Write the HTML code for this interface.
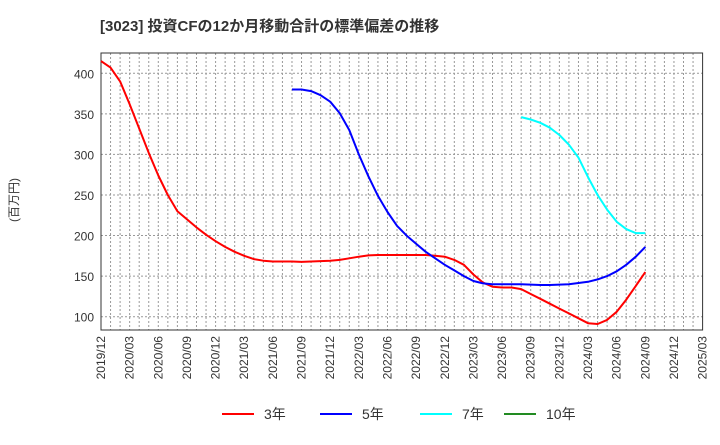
<!DOCTYPE html>
<html><head><meta charset="utf-8"><style>
body{margin:0;background:#fff;font-family:"Liberation Sans","Noto Sans CJK JP",sans-serif}
</style></head><body>
<svg width="720" height="440" font-family="Liberation Sans, Noto Sans CJK JP, sans-serif">
<text x="100" y="31" font-size="15" font-weight="bold" fill="#333">[3023]  投資CFの12か月移動合計の標準偏差の推移</text>
<text transform="translate(18,200) rotate(-90)" font-size="12" fill="#333" text-anchor="middle">(百万円)</text>
<g id="grid"></g><g id="axes"></g><g id="series"></g><g id="legend"></g>
</svg>
<script>
const xTickLabels=["2019/12","2020/03","2020/06","2020/09","2020/12","2021/03","2021/06","2021/09","2021/12","2022/03","2022/06","2022/09","2022/12","2023/03","2023/06","2023/09","2023/12","2024/03","2024/06","2024/09","2024/12","2025/03"];
const yTicks=[100,150,200,250,300,350,400];
const s3Start=0;
const s3=[415,407,390,362,332,302,274,250,230,220,210,201,193,186,180,175,171,169,168,168,168,167.5,168,168.5,169,170,172,174,175.5,176,176,176,176,176,176,175,174,170,164,152,142,137,136,136,134,128,122,116,110,104,98,92,91,96,106,121,138,155];
const s5Start=20;
const s5=[380,380,378,373,365,351,330,300,273,249,229,212,200,190,180,172,164,157,150,144,141,140,140,140,140,139.5,139,139,139.5,140,141.5,143,146,150,156,164,174,186];
const s7Start=44;
const s7=[346,343,339,333,324,312,296,272,250,232,217,208,203,203];
const ns="http://www.w3.org/2000/svg";
const L=101,R=702.6,T=53,B=330,nM=63;
const X=i=>L+(R-L)*i/nM;
const Y=v=>73.3+(400-v)*0.8113;
function mk(t,a,p){const e=document.createElementNS(ns,t);for(const k in a)e.setAttribute(k,a[k]);p.appendChild(e);return e;}
const g=document.getElementById('grid'),ax=document.getElementById('axes'),sg=document.getElementById('series'),lg=document.getElementById('legend');
for(let i=1;i<nM;i++){const l=mk('line',{x1:X(i),x2:X(i),y1:T,y2:B,stroke:'#999','stroke-dasharray':'2,2','stroke-width':1},g);
}
yTicks.forEach(v=>{const l=mk('line',{x1:L,x2:R,y1:Y(v),y2:Y(v),stroke:'#999','stroke-dasharray':'2,2'},g);

const t=mk('text',{x:L-7,y:Y(v)+5,'font-size':12,fill:'#333','text-anchor':'end'},ax);t.textContent=v;
});
const fr=mk('rect',{x:L,y:T,width:R-L,height:B-T,fill:'none',stroke:'#333','stroke-width':1},ax);

xTickLabels.forEach((s,i)=>{const x=X(i*3);const t=mk('text',{transform:`translate(${x+4},${B+6}) rotate(-90)`,'font-size':12,fill:'#333','text-anchor':'end'},ax);t.textContent=s;
});
function line(arr,start,color,name){const p=arr.map((v,i)=>X(start+i).toFixed(1)+','+Y(v).toFixed(1)).join(' ');
const e=mk('polyline',{points:p,fill:'none',stroke:color,'stroke-width':2,'stroke-linejoin':'round'},sg);
}
line(s3,s3Start,'#ff0000','series-3y');line(s5,s5Start,'#0000ff','series-5y');line(s7,s7Start,'#00ffff','series-7y');
const leg=[['3年','#ff0000',222],['5年','#0000ff',320],['7年','#00ffff',420],['10年','#228b22',504]];
leg.forEach(([n,c,x])=>{const gg=mk('g',{},lg);
mk('line',{x1:x,x2:x+32,y1:414,y2:414,stroke:c,'stroke-width':2},gg);
const t=mk('text',{x:x+42,y:419,'font-size':14,fill:'#333'},gg);t.textContent=n;});
</script>
</body></html>
